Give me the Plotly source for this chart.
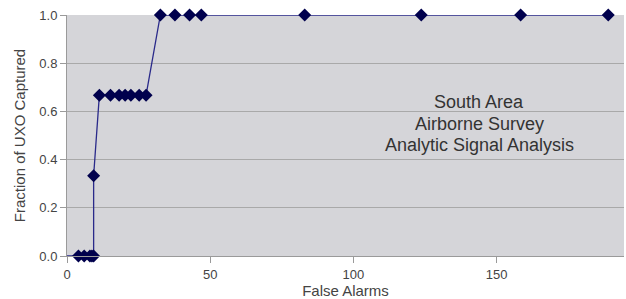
import plotly.graph_objects as go

false_alarms = [0, 4, 6, 8, 8.7, 9.3, 9.3, 11.3, 15.2, 18.2, 20.3, 22.3, 25.2, 27.6,
                32.6, 37.7, 42.8, 46.9, 83, 123.7, 158.4, 189]
fraction_captured = [0, 0, 0, 0, 0, 0, 0.333, 0.667, 0.667, 0.667, 0.667, 0.667, 0.667, 0.667,
                     1, 1, 1, 1, 1, 1, 1, 1]
marker_sizes = [0] + [10] * (len(false_alarms) - 1)

y_ticks = [0, 0.2, 0.4, 0.6, 0.8, 1.0]
x_ticks = [0, 50, 100, 150]
label_lines = ["South Area", "Airborne Survey", "Analytic Signal Analysis"]
label_y = [0.638, 0.549, 0.459]

fig = go.Figure()
fig.add_trace(go.Scatter(
    x=false_alarms, y=fraction_captured, mode="lines+markers",
    line=dict(color="#2a2a8a", width=1.3),
    marker=dict(symbol="diamond", size=marker_sizes, color="#00004d", line=dict(width=0), opacity=1),
    showlegend=False, cliponaxis=False,
))

for txt, yy in zip(label_lines, label_y):
    fig.add_annotation(
        x=144, y=yy, xref="x", yref="y", showarrow=False, text=txt,
        font=dict(family="Liberation Sans, Arial", size=18, color="#333333"),
        align="center",
    )

fig.update_layout(
    width=626, height=299,
    margin=dict(l=67, r=2, t=15, b=43, autoexpand=False),
    paper_bgcolor="white", plot_bgcolor="#d5d5d9",
    font=dict(family="Liberation Sans, Arial", size=12, color="#444444"),
)
fig.update_xaxes(
    range=[0, 194.5], tickvals=x_ticks, showgrid=False, zeroline=False,
    showline=True, linecolor="#9a9a9a", linewidth=1, automargin=False,
    ticks="outside", ticklen=6, tickcolor="#9a9a9a",
    tickfont=dict(size=13, color="#444444"),
    title=dict(text="False Alarms", standoff=0, font=dict(size=15, color="#444444")),
)
fig.update_yaxes(
    range=[0, 1.0], tickvals=y_ticks, tickformat=".1f",
    showgrid=True, gridcolor="#a9a9a9", gridwidth=1, zeroline=False,
    showline=True, linecolor="#9a9a9a", linewidth=1, automargin=False,
    ticks="outside", ticklen=6, tickcolor="#9a9a9a",
    tickfont=dict(size=13, color="#444444"),
    title=dict(text="Fraction of UXO Captured", standoff=10, font=dict(size=15, color="#444444")),
)

fig.write_html("out.html", config={"displayModeBar": False},
               post_script="document.body.style.margin='0px';document.body.style.overflow='hidden';")
